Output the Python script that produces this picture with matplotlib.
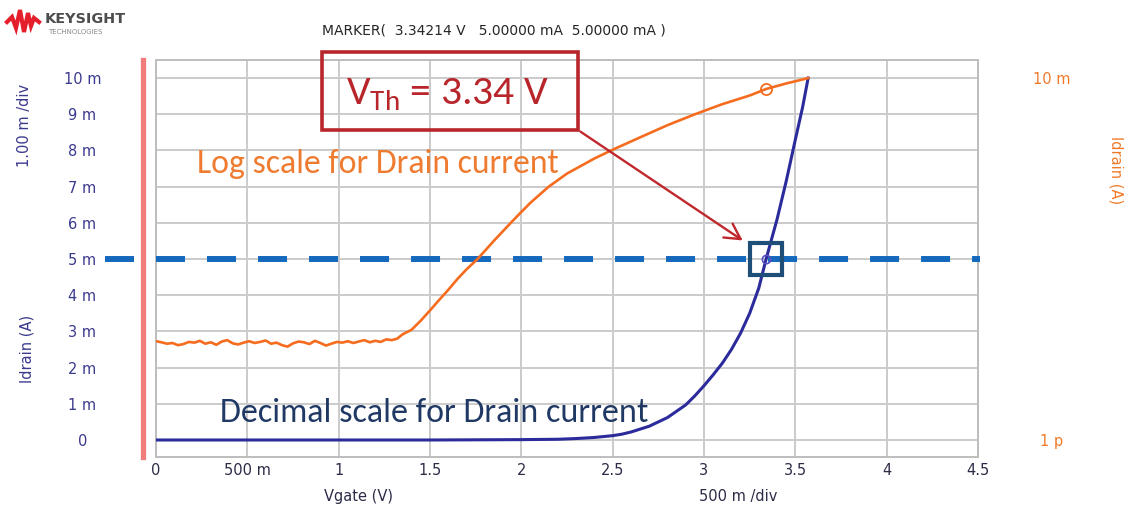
import numpy as np
import matplotlib
matplotlib.use('Agg')
import matplotlib.pyplot as plt
from matplotlib import font_manager
from matplotlib.lines import Line2D
from matplotlib.patches import Rectangle, FancyArrowPatch
from matplotlib.ticker import NullLocator

# ---- data ----
x_ticks = [0, 0.5, 1, 1.5, 2, 2.5, 3, 3.5, 4, 4.5]
x_tick_labels = ['0', '500 m', '1', '1.5', '2', '2.5', '3', '3.5', '4', '4.5']
y_ticks = [0, 1, 2, 3, 4, 5, 6, 7, 8, 9, 10]
y_tick_labels = ['0', '1 m', '2 m', '3 m', '4 m', '5 m', '6 m', '7 m', '8 m', '9 m', '10 m']
log_ticks = [1e-12, 1e-2]
log_tick_labels = ['1 p', '10 m']

# decimal scale drain current (mA) vs Vgate (V)
vgate_lin = [0, 0.5, 1.0, 1.5, 2.0, 2.2, 2.3, 2.4, 2.5, 2.55, 2.6, 2.7, 2.8, 2.9, 2.95,
             3.0, 3.05, 3.1, 3.15, 3.2, 3.25, 3.3, 3.34, 3.37, 3.4, 3.45, 3.5, 3.54, 3.57]
idrain_ma = [0, 0, 0, 0, 0.01, 0.02, 0.04, 0.07, 0.12, 0.16, 0.22, 0.38, 0.62, 0.97, 1.22,
             1.5, 1.8, 2.12, 2.5, 2.95, 3.5, 4.2, 5.0, 5.55, 6.1, 7.15, 8.3, 9.2, 10.0]

# log scale drain current (A) vs Vgate (V)
vgate_log = [0.00, 0.03, 0.06, 0.09, 0.12, 0.15, 0.18, 0.21, 0.24, 0.27, 0.30, 0.33,
             0.36, 0.39, 0.42, 0.45, 0.48, 0.51, 0.54, 0.57, 0.60, 0.63, 0.66, 0.69,
             0.72, 0.75, 0.78, 0.81, 0.84, 0.87, 0.90, 0.93, 0.96, 0.99, 1.02, 1.05,
             1.08, 1.11, 1.14, 1.17, 1.20, 1.23, 1.26, 1.29, 1.32, 1.35, 1.40, 1.45,
             1.50, 1.55, 1.60, 1.65, 1.70, 1.76, 1.85, 1.95, 2.0, 2.05, 2.15, 2.25, 2.40,
             2.50, 2.65, 2.80, 2.95, 3.10, 3.25, 3.34, 3.45, 3.57]
idrain_a = [5.37e-10, 5.01e-10, 4.57e-10, 4.79e-10, 4.17e-10, 4.47e-10, 5.13e-10, 4.90e-10,
            5.50e-10, 4.57e-10, 5.01e-10, 4.27e-10, 5.25e-10, 5.75e-10, 4.68e-10, 4.37e-10,
            4.90e-10, 5.37e-10, 4.79e-10, 5.13e-10, 5.62e-10, 4.57e-10, 4.90e-10, 4.17e-10,
            3.80e-10, 4.68e-10, 5.25e-10, 5.01e-10, 4.47e-10, 5.50e-10, 4.79e-10, 4.07e-10,
            4.57e-10, 5.13e-10, 4.90e-10, 5.37e-10, 4.79e-10, 5.25e-10, 5.75e-10, 5.01e-10,
            5.50e-10, 5.13e-10, 6.03e-10, 5.75e-10, 6.3e-10, 8.3e-10, 1.12e-9, 2.0e-9,
            3.8e-9, 7.4e-9, 1.41e-8, 2.8e-8, 5.2e-8, 1.0e-7, 3.2e-7, 1.1e-6, 2.0e-6, 3.6e-6,
            1.0e-5, 2.3e-5, 6.0e-5, 1.05e-4, 2.3e-4, 5.0e-4, 1.0e-3, 1.9e-3, 3.3e-3,
            5.0e-3, 7.1e-3, 1.0e-2]

marker_v = 3.34214
marker_ma = 5.0
marker_a = 5.0e-3

# ---- fonts ----
names = {f.name for f in font_manager.fontManager.ttflist}
narrow = 'Liberation Sans Narrow' if 'Liberation Sans Narrow' in names else 'DejaVu Sans'
nsize = 12.5 if narrow != 'DejaVu Sans' else 10.5
calib = 'Carlito' if 'Carlito' in names else 'Lato'

W, H = 1129, 516
fig = plt.figure(figsize=(W / 100, H / 100), dpi=100)
fig.patch.set_facecolor('white')

ax = fig.add_axes([156 / W, 1 - 457 / H, (978 - 156) / W, (457 - 60) / H])
ax.set_xlim(0, 4.5)
ax.set_ylim(-0.47, 10.5)
ax.set_xticks(x_ticks)
ax.set_xticklabels(x_tick_labels, fontfamily=narrow, fontsize=nsize, color='#2c2c48')
ax.set_yticks(y_ticks)
ax.set_yticklabels(y_tick_labels, fontfamily=narrow, fontsize=nsize, color='#3a3a8e')
for lbl in ax.get_yticklabels():
    lbl.set_ha('center')
ax.tick_params(axis='y', length=0, pad=53)
ax.tick_params(axis='x', length=0, pad=4)
ax.grid(True, color='#cbcbcb', lw=1.4)
ax.set_axisbelow(True)
for sp in ax.spines.values():
    sp.set_color('#bdbdbd')
    sp.set_linewidth(1.4)

# twin log axis
ax2 = ax.twinx()
ax2.set_yscale('log')
ax2.set_ylim(10 ** -12.47, 10 ** -1.5)
ax2.set_yticks(log_ticks)
ax2.set_yticklabels(log_tick_labels, fontfamily=narrow, fontsize=nsize, color='#f07a2a')
ax2.yaxis.set_minor_locator(NullLocator())
for lbl in ax2.get_yticklabels():
    lbl.set_ha('center')
ax2.tick_params(axis='y', length=0, pad=53)
for sp in ax2.spines.values():
    sp.set_visible(False)

# curves
ax.plot(vgate_lin, idrain_ma, color='#2b2b9c', lw=2.2, zorder=4)
ax2.plot(vgate_log, idrain_a, color='#f56c1e', lw=1.9, zorder=4)
ax.plot(marker_v, marker_ma, 'o', ms=6, mfc='none', mec='#5a4fc0', mew=1.2, zorder=5)
ax2.plot(marker_v, marker_a, 'o', ms=8, mfc='none', mec='#f56c1e', mew=1.3, zorder=5)

# threshold dashed line
ax.plot([-0.28, 4.51], [marker_ma, marker_ma], color='#1569bd', lw=4.3,
        linestyle=(0, (4.86, 3.68)), solid_capstyle='butt', dash_capstyle='butt',
        clip_on=False, zorder=3)
# marker box
ax.plot(marker_v, marker_ma, 's', ms=23, mfc='none', mec='#1f4e79', mew=3, zorder=6)

# pink cursor line at left
fig.add_artist(Line2D([143 / W, 143 / W], [1 - 60 / H, 1 - 457 / H], color='#f07c7c', lw=3.8))

# axis captions
fig.text(25 / W, 1 - 125 / H, '1.00 m /div', rotation=90, ha='center', va='center',
         fontfamily=narrow, fontsize=nsize, color='#3a3a8e')
fig.text(27 / W, 1 - 349 / H, 'Idrain (A)', rotation=90, ha='center', va='center',
         fontfamily=narrow, fontsize=nsize, color='#3a3a8e')
fig.text(1116 / W, 1 - 170 / H, 'Idrain (A)', rotation=270, ha='center', va='center',
         fontfamily=narrow, fontsize=nsize, color='#f07a2a')
fig.text(358 / W, 1 - 497 / H, 'Vgate (V)', ha='center', va='center',
         fontfamily=narrow, fontsize=nsize, color='#2c2c48')
fig.text(738 / W, 1 - 497 / H, '500 m /div', ha='center', va='center',
         fontfamily=narrow, fontsize=nsize, color='#2c2c48')

fig.text(322 / W, 1 - 31 / H, 'MARKER(  3.34214 V   5.00000 mA  5.00000 mA )',
         ha='left', va='center', fontfamily='DejaVu Sans', fontsize=10, color='#262626')

# annotations
fig.text(197 / W, 1 - 173 / H, 'Log scale for Drain current', ha='left', va='baseline',
         fontfamily=calib, fontsize=24.3, color='#ee7b30')
fig.text(220 / W, 1 - 422 / H, 'Decimal scale for Drain current', ha='left', va='baseline',
         fontfamily=calib, fontsize=24.5, color='#1f3864')

fig.add_artist(Rectangle((322 / W, 1 - 130 / H), 256 / W, 78 / H, fill=False,
                         edgecolor='#b8262c', lw=2.6))
fig.text(346 / W, 1 - 104 / H, r'$\mathregular{V_{Th}}$ = 3.34 V', ha='left', va='baseline',
         fontfamily=calib, fontsize=30, color='#b8262c')
fig.add_artist(FancyArrowPatch((578 / W, 1 - 130 / H), (745 / W, 1 - 242 / H),
                               arrowstyle='->,head_length=11,head_width=6',
                               color='#c0282d', lw=1.7, mutation_scale=1))

# logo
fig.add_artist(Line2D([7 / W, 12 / W, 16 / W, 20 / W, 24 / W, 28 / W, 31 / W, 34 / W, 39 / W],
                      [1 - 22 / H, 1 - 17 / H, 1 - 28 / H, 1 - 10 / H, 1 - 32 / H,
                       1 - 13 / H, 1 - 26 / H, 1 - 18 / H, 1 - 22 / H],
                      color='#e41e2b', lw=3.0, solid_joinstyle='miter'))
fig.text(45 / W, 1 - 19 / H, 'KEYSIGHT', ha='left', va='center', fontfamily='DejaVu Sans',
         fontweight='bold', fontsize=10.4, color='#4d4d4d')
fig.text(48 / W, 1 - 32 / H, 'TECHNOLOGIES', ha='left', va='center', fontfamily='DejaVu Sans',
         fontsize=5.0, color='#8a8a8a')

fig.savefig('out.png', dpi=100)
